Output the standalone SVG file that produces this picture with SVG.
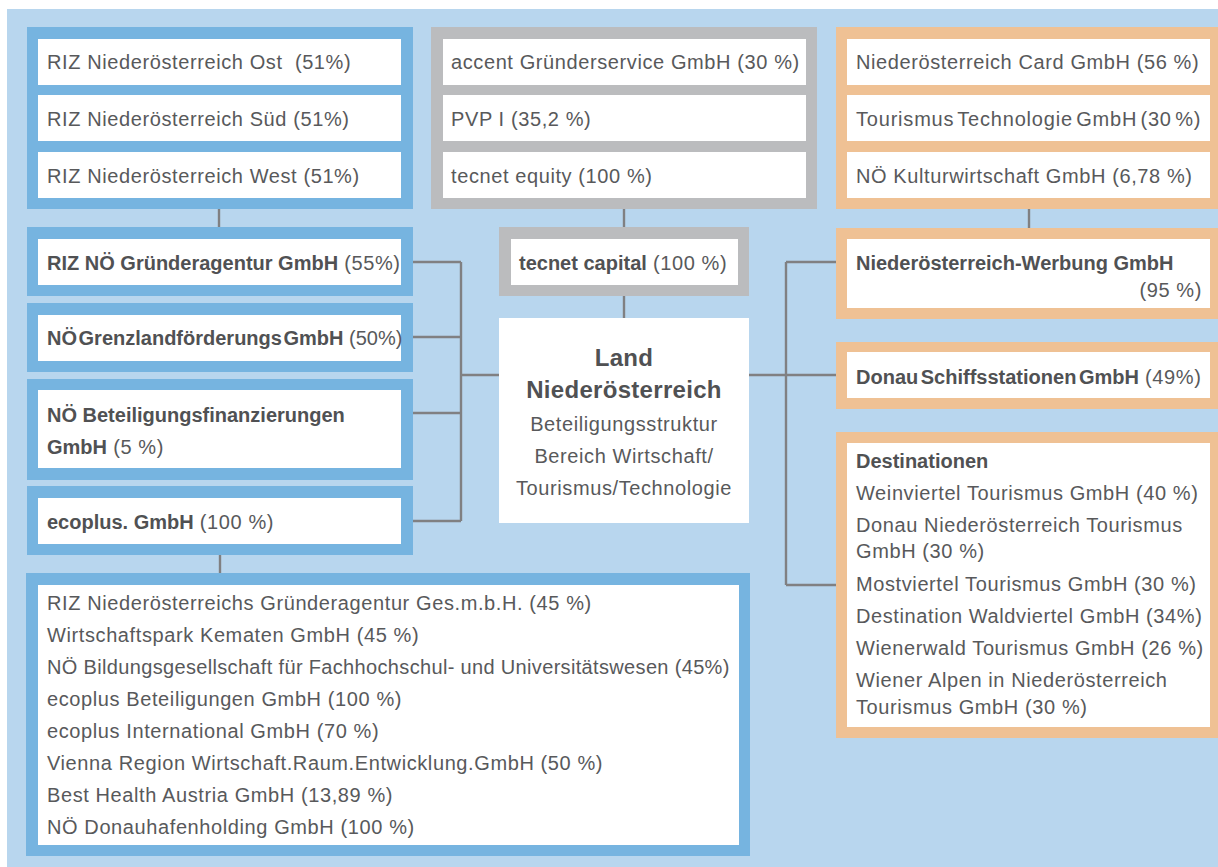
<svg xmlns="http://www.w3.org/2000/svg" width="1218" height="867" viewBox="0 0 1218 867">
<style>
.bg{fill:#b8d6ee}
.fb{fill:#76b4e0}
.fg{fill:#bbbcbe}
.fo{fill:#efc194}
.w{fill:#ffffff}
.t{font-family:"Liberation Sans",Arial,sans-serif;font-size:20px;fill:#58595b;letter-spacing:0.6px}
.b{font-weight:bold;letter-spacing:0px;fill:#505153}
.c{stroke:#808082;stroke-width:2.4;fill:none}
.mid{text-anchor:middle}
.end{text-anchor:end}
.big{font-size:24px;letter-spacing:0.3px;font-weight:bold;fill:#505153}
</style>
<rect class="bg" x="7" y="9" width="1211" height="858"/>

<g id="connectors">
<path class="c" d="M219 209V228"/>
<path class="c" d="M624 209V228"/>
<path class="c" d="M624 296V318"/>
<path class="c" d="M1029 209V228"/>
<path class="c" d="M413 262H461M413 337H461M413 413H461M413 521H461M461 262V521M461 375H499"/>
<path class="c" d="M749 375H786M786 262V585M786 262H836M786 375H836M786 585H836"/>
<path class="c" d="M220 555V573"/>
</g>

<g id="riz-regions">
<rect class="fb" x="27" y="27" width="386" height="182"/>
<rect class="w" x="38" y="39" width="363" height="46"/>
<rect class="w" x="38" y="95" width="363" height="46"/>
<rect class="w" x="38" y="152" width="363" height="46"/>
<text class="t" x="47" y="69">RIZ Niederösterreich Ost&#160; (51%)</text>
<text class="t" x="47" y="126">RIZ Niederösterreich Süd (51%)</text>
<text class="t" x="47" y="183">RIZ Niederösterreich West (51%)</text>
</g>

<g id="riz-gruenderagentur">
<rect class="fb" x="27" y="227" width="386" height="69"/>
<rect class="w" x="38" y="239" width="363" height="46"/>
<text class="t" x="47" y="270"><tspan class="b">RIZ NÖ Gründeragentur GmbH</tspan> (55%)</text>
</g>

<g id="grenzland">
<rect class="fb" x="27" y="303" width="386" height="69"/>
<rect class="w" x="38" y="315" width="363" height="46"/>
<text class="t" x="47" y="345"><tspan class="b" word-spacing="-4">NÖ Grenzlandförderungs GmbH</tspan><tspan style="letter-spacing:0px"> (50%)</tspan></text>
</g>

<g id="beteiligungsfinanzierungen">
<rect class="fb" x="27" y="379" width="386" height="101"/>
<rect class="w" x="38" y="390" width="363" height="78"/>
<text class="t" x="47" y="422"><tspan class="b">NÖ Beteiligungsfinanzierungen</tspan></text>
<text class="t" x="47" y="454"><tspan class="b">GmbH</tspan> (5 %)</text>
</g>

<g id="ecoplus">
<rect class="fb" x="27" y="486" width="386" height="69"/>
<rect class="w" x="38" y="498" width="363" height="46"/>
<text class="t" x="47" y="529"><tspan class="b">ecoplus. GmbH</tspan> (100 %)</text>
</g>

<g id="ecoplus-beteiligungen">
<rect class="fb" x="26" y="573" width="724" height="283"/>
<rect class="w" x="38" y="585" width="701" height="260"/>
<text class="t" x="47" y="610">RIZ Niederösterreichs Gründeragentur Ges.m.b.H. (45 %)</text>
<text class="t" x="47" y="642">Wirtschaftspark Kematen GmbH (45 %)</text>
<text class="t" x="47" y="674" textLength="683" lengthAdjust="spacing">NÖ Bildungsgesellschaft für Fachhochschul- und Universitätswesen (45%)</text>
<text class="t" x="47" y="706">ecoplus Beteiligungen GmbH (100 %)</text>
<text class="t" x="47" y="738">ecoplus International GmbH (70 %)</text>
<text class="t" x="47" y="770">Vienna Region Wirtschaft.Raum.Entwicklung.GmbH (50 %)</text>
<text class="t" x="47" y="802">Best Health Austria GmbH (13,89 %)</text>
<text class="t" x="47" y="834">NÖ Donauhafenholding GmbH (100 %)</text>
</g>

<g id="tecnet-beteiligungen">
<rect class="fg" x="431" y="27" width="386" height="182"/>
<rect class="w" x="443" y="39" width="363" height="46"/>
<rect class="w" x="443" y="95" width="363" height="46"/>
<rect class="w" x="443" y="152" width="363" height="46"/>
<text class="t" x="451" y="69">accent Gründerservice GmbH (30 %)</text>
<text class="t" x="451" y="126">PVP I (35,2 %)</text>
<text class="t" x="451" y="183">tecnet equity (100 %)</text>
</g>

<g id="tecnet-capital">
<rect class="fg" x="499" y="227" width="250" height="69"/>
<rect class="w" x="511" y="239" width="227" height="46"/>
<text class="t" x="519" y="270"><tspan class="b">tecnet capital</tspan> (100 %)</text>
</g>

<g id="land-noe">
<rect class="w" x="499" y="318" width="250" height="205"/>
<text class="t mid big" x="624" y="366">Land</text>
<text class="t mid big" x="624" y="398">Niederösterreich</text>
<text class="t mid" x="624" y="431">Beteiligungsstruktur</text>
<text class="t mid" x="624" y="463">Bereich Wirtschaft/</text>
<text class="t mid" x="624" y="495">Tourismus/Technologie</text>
</g>

<g id="tourismus-beteiligungen">
<rect class="fo" x="836" y="27" width="382" height="182"/>
<rect class="w" x="847" y="39" width="363" height="46"/>
<rect class="w" x="847" y="95" width="363" height="46"/>
<rect class="w" x="847" y="152" width="363" height="46"/>
<text class="t" x="856" y="69">Niederösterreich Card GmbH (56 %)</text>
<text class="t" x="856" y="126" word-spacing="-3" textLength="345" lengthAdjust="spacing">Tourismus Technologie GmbH (30 %)</text>
<text class="t" x="856" y="183">NÖ Kulturwirtschaft GmbH (6,78 %)</text>
</g>

<g id="noe-werbung">
<rect class="fo" x="836" y="228" width="382" height="91"/>
<rect class="w" x="847" y="239" width="363" height="69"/>
<text class="t" x="856" y="270"><tspan class="b">Niederösterreich-Werbung GmbH</tspan></text>
<text class="t end" x="1202" y="297">(95 %)</text>
</g>

<g id="donau-schiffsstationen">
<rect class="fo" x="836" y="342" width="382" height="67"/>
<rect class="w" x="847" y="352" width="363" height="46"/>
<text class="t" x="856" y="384"><tspan class="b" word-spacing="-3">Donau Schiffsstationen GmbH</tspan> (49%)</text>
</g>

<g id="destinationen">
<rect class="fo" x="836" y="432" width="382" height="306"/>
<rect class="w" x="847" y="443" width="363" height="284"/>
<text class="t" x="856" y="468"><tspan class="b">Destinationen</tspan></text>
<text class="t" x="856" y="500">Weinviertel Tourismus GmbH (40 %)</text>
<text class="t" x="856" y="532">Donau Niederösterreich Tourismus</text>
<text class="t" x="856" y="558">GmbH (30 %)</text>
<text class="t" x="856" y="591">Mostviertel Tourismus GmbH (30 %)</text>
<text class="t" x="856" y="623">Destination Waldviertel GmbH (34%)</text>
<text class="t" x="856" y="655">Wienerwald Tourismus GmbH (26 %)</text>
<text class="t" x="856" y="687">Wiener Alpen in Niederösterreich</text>
<text class="t" x="856" y="714">Tourismus GmbH (30 %)</text>
</g>
</svg>
